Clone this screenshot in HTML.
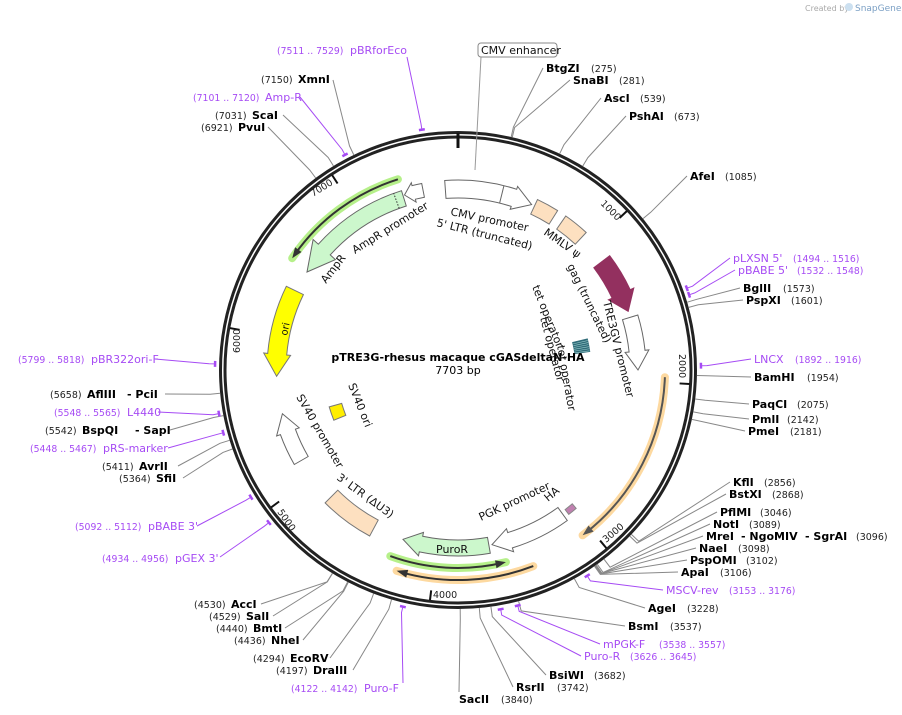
<!DOCTYPE html>
<html><head><meta charset="utf-8"><style>
html,body{margin:0;padding:0;background:#fff;}
svg{display:block;font-family:"DejaVu Sans","Liberation Sans",sans-serif;}
.e{font-weight:bold;font-size:11px;fill:#000}
.n{font-size:9.5px;fill:#222}
.p{font-size:11px;fill:#a64bf4}
.pn{font-size:9.3px;fill:#a64bf4}
.f{font-size:11px;fill:#111}
.t{font-size:11px;fill:#111}
</style></head><body>
<svg id="s" width="902" height="715" viewBox="0 0 902 715" xmlns="http://www.w3.org/2000/svg">
<g id="g"></g>
<text x="805" y="11" style="font-size:8px;fill:#aaa">Created by</text>
<circle cx="849" cy="7" r="4" fill="#cce0f0"/>
<text x="855" y="11" style="font-size:9px;fill:#7a9fc4">SnapGene</text>

<rect x="478" y="43" width="79" height="14" rx="3" fill="#fff" stroke="#888" stroke-width="1"/>
<text x="481" y="54" class="f">CMV enhancer</text>
<line x1="481" y1="57" x2="475" y2="170" stroke="#999" stroke-width="1"/>

<text x="458" y="361" text-anchor="middle" style="font-weight:bold;font-size:11px">pTRE3G-rhesus macaque cGASdeltaN-HA</text>
<text x="458" y="374" text-anchor="middle" style="font-size:11px">7703 bp</text>

<text x="277" y="54" class="pn">(7511 .. 7529)</text><text x="350" y="54" class="p">pBRforEco</text>
<text x="261" y="83" class="n">(7150)</text><text x="298" y="83" class="e">XmnI</text>
<text x="193" y="101" class="pn">(7101 .. 7120)</text><text x="265" y="101" class="p">Amp-R</text>
<text x="215" y="119" class="n">(7031)</text><text x="252" y="119" class="e">ScaI</text>
<text x="201" y="131" class="n">(6921)</text><text x="238" y="131" class="e">PvuI</text>

<text x="546" y="72" class="e">BtgZI</text><text x="591" y="72" class="n">(275)</text>
<text x="573" y="84" class="e">SnaBI</text><text x="619" y="84" class="n">(281)</text>
<text x="604" y="102" class="e">AscI</text><text x="640" y="102" class="n">(539)</text>
<text x="629" y="120" class="e">PshAI</text><text x="674" y="120" class="n">(673)</text>
<text x="690" y="180" class="e">AfeI</text><text x="725" y="180" class="n">(1085)</text>
<text x="733" y="262" class="p">pLXSN 5'</text><text x="793" y="262" class="pn">(1494 .. 1516)</text>
<text x="738" y="274" class="p">pBABE 5'</text><text x="797" y="274" class="pn">(1532 .. 1548)</text>
<text x="743" y="292" class="e">BglII</text><text x="783" y="292" class="n">(1573)</text>
<text x="746" y="304" class="e">PspXI</text><text x="791" y="304" class="n">(1601)</text>
<text x="754" y="363" class="p">LNCX</text><text x="795" y="363" class="pn">(1892 .. 1916)</text>
<text x="754" y="381" class="e">BamHI</text><text x="807" y="381" class="n">(1954)</text>
<text x="752" y="408" class="e">PaqCI</text><text x="797" y="408" class="n">(2075)</text>
<text x="752" y="423" class="e">PmlI</text><text x="787" y="423" class="n">(2142)</text>
<text x="748" y="435" class="e">PmeI</text><text x="790" y="435" class="n">(2181)</text>

<text x="733" y="486" class="e">KflI</text><text x="764" y="486" class="n">(2856)</text>
<text x="729" y="498" class="e">BstXI</text><text x="772" y="498" class="n">(2868)</text>
<text x="720" y="516" class="e">PflMI</text><text x="760" y="516" class="n">(3046)</text>
<text x="713" y="528" class="e">NotI</text><text x="749" y="528" class="n">(3089)</text>
<text x="706" y="540" class="e">MreI</text><text x="741" y="540" class="e">- NgoMIV</text><text x="805" y="540" class="e">- SgrAI</text><text x="856" y="540" class="n">(3096)</text>
<text x="699" y="552" class="e">NaeI</text><text x="738" y="552" class="n">(3098)</text>
<text x="690" y="564" class="e">PspOMI</text><text x="746" y="564" class="n">(3102)</text>
<text x="681" y="576" class="e">ApaI</text><text x="720" y="576" class="n">(3106)</text>
<text x="666" y="594" class="p">MSCV-rev</text><text x="729" y="594" class="pn">(3153 .. 3176)</text>
<text x="648" y="612" class="e">AgeI</text><text x="687" y="612" class="n">(3228)</text>
<text x="628" y="630" class="e">BsmI</text><text x="670" y="630" class="n">(3537)</text>
<text x="603" y="648" class="p">mPGK-F</text><text x="659" y="648" class="pn">(3538 .. 3557)</text>
<text x="584" y="660" class="p">Puro-R</text><text x="630" y="660" class="pn">(3626 .. 3645)</text>
<text x="549" y="679" class="e">BsiWI</text><text x="594" y="679" class="n">(3682)</text>
<text x="516" y="691" class="e">RsrII</text><text x="557" y="691" class="n">(3742)</text>
<text x="459" y="703" class="e">SacII</text><text x="501" y="703" class="n">(3840)</text>

<text x="194" y="608" class="n">(4530)</text><text x="231" y="608" class="e">AccI</text>
<text x="209" y="620" class="n">(4529)</text><text x="246" y="620" class="e">SalI</text>
<text x="216" y="632" class="n">(4440)</text><text x="253" y="632" class="e">BmtI</text>
<text x="234" y="644" class="n">(4436)</text><text x="271" y="644" class="e">NheI</text>
<text x="253" y="662" class="n">(4294)</text><text x="290" y="662" class="e">EcoRV</text>
<text x="276" y="674" class="n">(4197)</text><text x="313" y="674" class="e">DraIII</text>
<text x="291" y="692" class="pn">(4122 .. 4142)</text><text x="364" y="692" class="p">Puro-F</text>

<text x="18" y="363" class="pn">(5799 .. 5818)</text><text x="91" y="363" class="p">pBR322ori-F</text>
<text x="50" y="398" class="n">(5658)</text><text x="87" y="398" class="e">AflIII</text><text x="127" y="398" class="e">- PciI</text>
<text x="54" y="416" class="pn">(5548 .. 5565)</text><text x="127" y="416" class="p">L4440</text>
<text x="45" y="434" class="n">(5542)</text><text x="82" y="434" class="e">BspQI</text><text x="135" y="434" class="e">- SapI</text>
<text x="30" y="452" class="pn">(5448 .. 5467)</text><text x="103" y="452" class="p">pRS-marker</text>
<text x="102" y="470" class="n">(5411)</text><text x="139" y="470" class="e">AvrII</text>
<text x="119" y="482" class="n">(5364)</text><text x="156" y="482" class="e">SfiI</text>
<text x="75" y="530" class="pn">(5092 .. 5112)</text><text x="148" y="530" class="p">pBABE 3'</text>
<text x="102" y="562" class="pn">(4934 .. 4956)</text><text x="175" y="562" class="p">pGEX 3'</text>

<text class="t" transform="translate(450,215) rotate(12)">CMV promoter</text>
<text class="t" transform="translate(436,226) rotate(14)">5' LTR (truncated)</text>
<text class="t" transform="translate(543,234) rotate(35)">MMLV ψ</text>
<text class="t" transform="translate(567,266) rotate(64)">gag (truncated)</text>
<text class="t" transform="translate(603,302) rotate(76)">TRE3GV promoter</text>
<text class="t" transform="translate(532,287) rotate(68)">tet operator</text>
<text class="t" transform="translate(540,318) rotate(75)">tet operator</text>
<text class="t" transform="translate(557,346) rotate(80)">tet operator</text>
<text class="t" transform="translate(355,254) rotate(-32)">AmpR promoter</text>
<text class="t" transform="translate(326,284) rotate(-52)">AmpR</text>
<text class="t" transform="translate(287,336) rotate(-78)" style="font-size:10px">ori</text>
<text class="t" transform="translate(348,385) rotate(68)">SV40 ori</text>
<text class="t" transform="translate(296,397) rotate(60)">SV40 promoter</text>
<text class="t" transform="translate(336,479) rotate(36)">3' LTR (ΔU3)</text>
<text class="t" transform="translate(481,521) rotate(-25)">PGK promoter</text>
<text class="t" transform="translate(548,502) rotate(-40)">HA</text>
<text class="t" x="436" y="553">PuroR</text>
<text class="n" transform="translate(600,204) rotate(45)">1000</text>
<text class="n" transform="translate(679,354) rotate(90)">2000</text>
<text class="n" transform="translate(606,543) rotate(-40)">3000</text>
<text class="n" x="433" y="598">4000</text>
<text class="n" transform="translate(277,512) rotate(55)">5000</text>
<text class="n" transform="translate(240,353) rotate(-90)">6000</text>
<text class="n" transform="translate(313,197) rotate(-32)">7000</text>
</svg>
<script>
(function(){
var cx=458,cy=370,N=7703,ns="http://www.w3.org/2000/svg",g=document.getElementById('g');
function P(a,r){a=a*Math.PI/180;return [cx+r*Math.sin(a),cy-r*Math.cos(a)];}
function A(pos){return pos/N*360;}
function el(t,at){var e=document.createElementNS(ns,t);for(var k in at)e.setAttribute(k,at[k]);g.appendChild(e);return e;}
function pt(p){return p[0].toFixed(1)+','+p[1].toFixed(1);}
function arc(a1,a2,r){var p=P(a2,r);return 'A'+r+','+r+' 0 '+((a2-a1)>180?1:0)+' 1 '+pt(p);}
function arcR(a2,a1,r){var p=P(a1,r);return 'A'+r+','+r+' 0 '+((a2-a1)>180?1:0)+' 0 '+pt(p);}
function band(a1,a2,r1,r2,head,fill,stroke,h,fl){
  h=h||6;fl=fl===undefined?3:fl;var m=(r1+r2)/2,d;
  if(head==1){d='M'+pt(P(a1,r2))+arc(a1,a2-h,r2)+'L'+pt(P(a2-h,r2+fl))+'L'+pt(P(a2,m))+'L'+pt(P(a2-h,r1-fl))+'L'+pt(P(a2-h,r1))+arcR(a2-h,a1,r1)+'Z';}
  else if(head==-1){d='M'+pt(P(a1,m))+'L'+pt(P(a1+h,r2+fl))+'L'+pt(P(a1+h,r2))+arc(a1+h,a2,r2)+'L'+pt(P(a2,r1))+arcR(a2,a1+h,r1)+'L'+pt(P(a1+h,r1-fl))+'Z';}
  else{d='M'+pt(P(a1,r2))+arc(a1,a2,r2)+'L'+pt(P(a2,r1))+arcR(a2,a1,r1)+'Z';}
  el('path',{d:d,fill:fill,stroke:stroke||'#666','stroke-width':1});
}
function thin(a1,a2,r,head,hl,col){
  el('path',{d:'M'+pt(P(a1,r))+arc(a1,a2,r),fill:'none',stroke:hl,'stroke-width':8,'stroke-linecap':'round'});
  var h=3;
  if(head==1){el('path',{d:'M'+pt(P(a1,r))+arc(a1,a2-1,r),fill:'none',stroke:col,'stroke-width':2});
    el('path',{d:'M'+pt(P(a2,r))+'L'+pt(P(a2-h,r+4))+'L'+pt(P(a2-h,r-4))+'Z',fill:col});}
  else{el('path',{d:'M'+pt(P(a1+1,r))+arc(a1+1,a2,r),fill:'none',stroke:col,'stroke-width':2});
    el('path',{d:'M'+pt(P(a1,r))+'L'+pt(P(a1+h,r+4))+'L'+pt(P(a1+h,r-4))+'Z',fill:col});}
}
el('circle',{cx:cx,cy:cy,r:237.5,fill:'none',stroke:'#222','stroke-width':3});
el('circle',{cx:cx,cy:cy,r:233,fill:'none',stroke:'#222','stroke-width':3});
var a0=P(0,235),a1=P(0,222);el('line',{x1:a0[0],y1:a0[1]-2,x2:a1[0],y2:a1[1],stroke:'#111','stroke-width':3});
for(var k=1;k<=7;k++){var a=A(k*1000),p1=P(a,232),p2=P(a,222);el('line',{x1:p1[0],y1:p1[1],x2:p2[0],y2:p2[1],stroke:'#111','stroke-width':2});}
var G='#888',V='#a64bf4';
var L=[[7150,333,80],[7031,283,115],[6921,268,127],
[275,543,68],[281,570,80],[539,601,98],[673,626,116],[1085,687,176],
[1573,740,288],[1601,743,300],[1954,751,377],[2075,749,404],[2142,749,419],[2181,745,431],
[2856,730,482],[2868,726,494],[3046,717,512],[3089,710,524],[3096,703,536],[3098,696,548],[3102,687,560],[3106,678,572],
[3228,645,608],[3537,625,626],[3682,546,675],[3742,513,687],[3840,459,692],
[4530,261,604],[4529,273,616],[4440,285,628],[4436,303,640],[4294,330,658],[4197,353,670],
[5658,165,394],[5542,170,430],[5411,178,466],[5364,183,478]];
L.forEach(function(l){var a=A(l[0]),p=P(a,239),q=P(a,249);
 el('polyline',{points:pt(p)+' '+pt(q)+' '+l[1]+','+l[2],fill:'none',stroke:G,'stroke-width':1});});
var Pr=[[7520,407,57],[7110,300,97],[1505,730,258],[1540,735,270],[1904,751,359],[3164,663,590],[3547,600,644],[3635,581,656],
[4132,403,683],[5808,155,359],[5556,158,412],[5457,168,448],[5102,197,526],[4945,220,557]];
Pr.forEach(function(l){var a=A(l[0]),p=P(a,243),q=P(a,249);
 var b1=P(a-0.7,243),b2=P(a+0.7,243);
 el('line',{x1:b1[0],y1:b1[1],x2:b2[0],y2:b2[1],stroke:V,'stroke-width':2.5});
 el('polyline',{points:pt(p)+' '+pt(q)+' '+l[1]+','+l[2],fill:'none',stroke:V,'stroke-width':1});});
band(-4,24,172,190,1,'#fff','#666',6,3);
var d1=P(14,172),d2=P(14,190);el('line',{x1:d1[0],y1:d1[1],x2:d2[0],y2:d2[1],stroke:'#666'});
band(25,32,172,188,0,'#fde0c0','#777');
band(35,43,172,188,0,'#fde0c0','#777');
band(53,71,170,190,1,'#93305f','#93305f',6,4);
band(73,90,172,188,1,'#fff','#666',6,4);
band(76.5,82,118,133,0,'#2f6b78','#2f6b78');
for(var t=77.2;t<82;t+=0.9){var s1=P(t,118),s2=P(t,133);el('line',{x1:s1[0],y1:s1[1],x2:s2[0],y2:s2[1],stroke:'#9cc','stroke-width':0.6});}
thin(92,143,207,1,'#fdd9a0','#555');
band(139.5,142.5,176,182,0,'#c080b0','#888');
band(144,169,170,186,1,'#fff','#666',6,4);
band(170,198,170,186,1,'#ccf7cc','#666',6,4);
thin(166,200,198,-1,'#b6f08a','#333');
thin(159,197,210,1,'#fdd9a0','#333');
band(208,225,170,188,0,'#fde0c0','#777');
band(240,256,173,189,1,'#fff','#666',6,4);
band(248,254,121,134,0,'#ffee00','#777');
band(268,296,172,191,-1,'#ffff00','#777',7,4);
band(303,342.5,172,188,-1,'#ccf7cc','#666',9,7);
var e1=P(340,172),e2=P(340,188);el('line',{x1:e1[0],y1:e1[1],x2:e2[0],y2:e2[1],stroke:'#333','stroke-dasharray':'1.5,1.5'});
band(343,349,176,190,-1,'#fff','#666',3,3);
thin(304,342.5,200,-1,'#b6f08a','#333');
})();
</script>
</body></html>
